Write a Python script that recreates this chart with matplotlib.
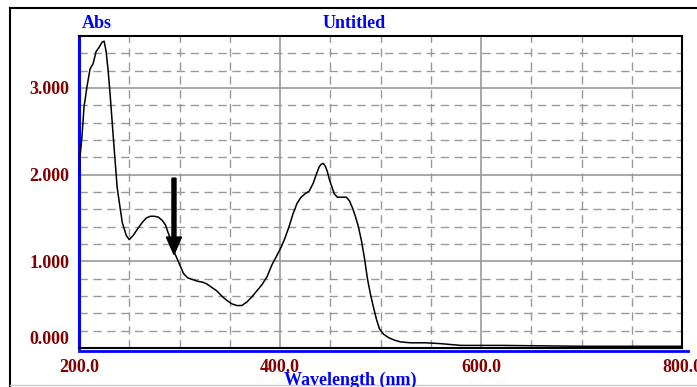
import matplotlib
matplotlib.use('Agg')
import matplotlib.pyplot as plt
from matplotlib.lines import Line2D

# spectrum
wavelength = [200, 201, 203, 205, 208, 211, 214, 217, 220, 223, 225, 227, 229, 231, 234, 238,
              243, 247, 250, 254, 258, 263, 267, 271, 275, 279, 283, 286, 289, 292, 295, 298,
              301, 304, 308, 313, 318, 323, 327, 332, 337, 342, 347, 352, 357, 362, 367, 372,
              377, 382, 387, 392, 397, 401, 405, 409, 413, 417, 421, 425, 429, 433, 436, 439,
              441, 443, 445, 447, 449, 451, 454, 457, 460, 463, 466, 469, 472, 475, 478, 481,
              484, 487, 490, 493, 496, 499, 503, 508, 514, 520, 530, 545, 560, 580, 620, 700, 800]
absorbance = [1.98, 2.20, 2.45, 2.78, 3.02, 3.22, 3.28, 3.42, 3.47, 3.53, 3.54, 3.42, 3.20, 2.92, 2.45, 1.85,
              1.45, 1.30, 1.25, 1.30, 1.37, 1.45, 1.50, 1.52, 1.52, 1.51, 1.47, 1.42, 1.32, 1.22, 1.10, 1.02,
              0.94, 0.86, 0.81, 0.79, 0.77, 0.76, 0.74, 0.70, 0.66, 0.60, 0.55, 0.51, 0.49, 0.49, 0.53, 0.59,
              0.66, 0.73, 0.82, 0.96, 1.07, 1.16, 1.27, 1.40, 1.55, 1.67, 1.74, 1.78, 1.81, 1.90, 2.00, 2.09,
              2.12, 2.13, 2.10, 2.04, 1.95, 1.88, 1.78, 1.74, 1.74, 1.74, 1.74, 1.70, 1.62, 1.52, 1.40, 1.24,
              1.04, 0.80, 0.62, 0.47, 0.33, 0.22, 0.16, 0.12, 0.09, 0.07, 0.06, 0.06, 0.05, 0.03, 0.03, 0.02, 0.02]

xticks = [200, 400, 600, 800]
xticklabels = ['200.0', '400.0', '600.0', '800.0']
yticks = [0, 1, 2, 3]
yticklabels = ['0.000', '1.000', '2.000', '3.000']

arrow_x = 294.5
arrow_top = 1.96
arrow_tip = 1.08

red = '#800000'
blue = '#0000ff'
grid_col = '#999999'
font = 'Liberation Serif'

fig = plt.figure(figsize=(6.97, 3.87), dpi=100)
ax = fig.add_axes([79 / 697, 1 - 348 / 387, (682 - 79) / 697, (348 - 36) / 387])

ax.set_xlim(200, 800)
ax.set_ylim(0, 3.6)

# grid: solid on major, dashed on minor
for x in range(250, 800, 50):
    if x % 200 == 0:
        ax.axvline(x, color=grid_col, lw=1.2, zorder=1)
    else:
        ax.axvline(x, color=grid_col, lw=1.0, dashes=(6, 4), zorder=1)
for i in range(1, 18):
    y = i * 0.2
    if i % 5 == 0:
        ax.axhline(y, color=grid_col, lw=1.2, zorder=1)
    else:
        ax.axhline(y, color=grid_col, lw=1.0, dashes=(6, 4), zorder=1)

ax.plot(wavelength, absorbance, color='black', lw=1.1, zorder=3)

ax.arrow(arrow_x, arrow_top, 0, arrow_tip - arrow_top, width=4.0, head_width=15,
         head_length=0.2, length_includes_head=True, color='black', zorder=4)

ax.set_xticks(xticks)
ax.set_xticklabels(xticklabels)
ax.set_yticks(yticks)
ax.set_yticklabels(yticklabels)
ax.tick_params(length=0)
ax.tick_params(axis='x', pad=8)
ax.tick_params(axis='y', pad=7)
for lab in ax.get_xticklabels() + ax.get_yticklabels():
    lab.set_fontfamily(font)
    lab.set_fontweight('bold')
    lab.set_fontsize(13)
    lab.set_color(red)
ax.get_yticklabels()[0].set_va('bottom')

for s in ax.spines.values():
    s.set_color('black')
    s.set_linewidth(1.5)
ax.spines['left'].set_color(blue)
ax.spines['left'].set_linewidth(2.2)
ax.add_line(Line2D([0, 1.01], [-0.011, -0.011], transform=ax.transAxes, color=blue,
                   lw=2.0, clip_on=False))

fig.text(97 / 697, 1 - 24 / 387, 'Abs', color=blue, fontfamily=font, fontweight='bold',
         fontsize=13, ha='center', va='center')
fig.text(354 / 697, 1 - 23 / 387, 'Untitled', color=blue, fontfamily=font, fontweight='bold',
         fontsize=13, ha='center', va='center')
fig.text(350 / 697, 1 - 380 / 387, 'Wavelength (nm)', color=blue, fontfamily=font,
         fontweight='bold', fontsize=13, ha='center', va='center')

# outer frame
fig.add_artist(Line2D([10 / 697, 1.0], [1 - 8 / 387, 1 - 8 / 387], color='black', lw=1.5))
fig.add_artist(Line2D([10 / 697, 10 / 697], [1 - 8 / 387, 0], color='black', lw=1.5))
fig.add_artist(Line2D([10 / 697, 1.0], [1 - 385 / 387, 1 - 385 / 387], color='#cccccc', lw=1.0))

fig.savefig('out.png', dpi=100)
